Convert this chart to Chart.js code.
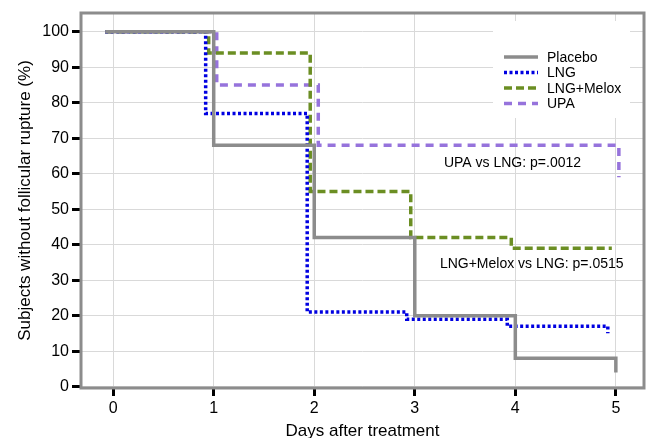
<!DOCTYPE html>
<html>
<head>
<meta charset="utf-8">
<script src="https://cdn.jsdelivr.net/npm/chart.js@4.4.1/dist/chart.umd.min.js"></script>
<style>
  html, body { margin: 0; padding: 0; background: #fff; }
  #wrap { width: 649px; height: 438px; }
</style>
</head>
<body>
<div id="wrap"><canvas id="kmChart" width="649" height="438"></canvas></div>
<script>
// tick labels
const xTicks = [0, 1, 2, 3, 4, 5];
const yTicks = [0, 10, 20, 30, 40, 50, 60, 70, 80, 90, 100];

// Kaplan-Meier steps: day of each step and value after it
const placeboDays = [-0.08, 1.0, 2.0, 3.0, 4.0, 5.0];
const placeboPct = [100, 68, 42, 20, 8, 4];
const lngDays = [-0.08, 0.92, 1.93, 2.92, 3.92, 4.92];
const lngPct = [100, 77, 21, 19, 17, 15];
const meloxDays = [-0.08, 0.95, 1.96, 2.96, 3.96, 4.96];
const meloxPct = [100, 94, 55, 42, 39, 39];
const upaDays = [-0.08, 1.03, 2.04, 5.03];
const upaPct = [100, 85, 68, 59];

// p-value notes, anchored at [day, percent]
const notes = [
    { text: 'UPA vs LNG: p=.0012', day: 3.29, pct: 62.9 },
    { text: 'LNG+Melox vs LNG: p=.0515', day: 3.25, pct: 34.5 }
];

const FONT = "'Liberation Sans', Arial, Helvetica, sans-serif";

function toPoints(days, pct) {
    return days.map((d, i) => ({ x: d, y: pct[i] }));
}

const series = [
    { label: 'Placebo', days: placeboDays, pct: placeboPct, color: 'rgb(140, 140, 140)', width: 3.5, dash: [] },
    { label: 'LNG', days: lngDays, pct: lngPct, color: 'rgb(0, 0, 225)', width: 3.5, dash: [3, 2.5] },
    { label: 'LNG+Melox', days: meloxDays, pct: meloxPct, color: 'rgb(107, 142, 35)', width: 3.5, dash: [8, 4] },
    { label: 'UPA', days: upaDays, pct: upaPct, color: 'rgb(150, 115, 220)', width: 3.5, dash: [8, 6] }
];

// white legend box inside the plot, top right
const legendBox = {
    id: 'legendBox',
    beforeDatasetsDraw(chart) {
        const ctx = chart.ctx;
        const area = chart.chartArea;
        const x0 = area.right - 151;
        const y0 = area.top + 8;
        ctx.save();
        ctx.fillStyle = '#fff';
        ctx.fillRect(x0, y0, 137, 97);
        ctx.font = '14px ' + FONT;
        ctx.textBaseline = 'middle';
        series.forEach((s, i) => {
            const y = area.top + 44 + i * 15.5;
            ctx.strokeStyle = s.color;
            ctx.lineWidth = s.width;
            ctx.setLineDash(s.dash);
            ctx.beginPath();
            ctx.moveTo(x0 + 11, y);
            ctx.lineTo(x0 + 45, y);
            ctx.stroke();
            ctx.setLineDash([]);
            ctx.fillStyle = '#000';
            ctx.fillText(s.label, x0 + 54, y + 1);
        });
        ctx.restore();
    }
};

// grey frame around the plot plus the p-value notes
const frameAndNotes = {
    id: 'frameAndNotes',
    afterDatasetsDraw(chart) {
        const ctx = chart.ctx;
        const area = chart.chartArea;
        const xs = chart.scales.x;
        const ys = chart.scales.y;
        ctx.save();
        ctx.font = '14px ' + FONT;
        ctx.fillStyle = '#000';
        ctx.textBaseline = 'middle';
        notes.forEach(n => {
            ctx.fillText(n.text, xs.getPixelForValue(n.day), ys.getPixelForValue(n.pct));
        });
        ctx.strokeStyle = 'rgb(140, 140, 140)';
        ctx.lineWidth = 3;
        ctx.strokeRect(area.left, area.top, area.right - area.left, area.bottom - area.top);
        ctx.restore();
    }
};

new Chart(document.getElementById('kmChart'), {
    type: 'line',
    data: {
        datasets: series.map(s => ({
            label: s.label,
            data: toPoints(s.days, s.pct),
            stepped: true,
            borderColor: s.color,
            borderWidth: s.width,
            borderDash: s.dash,
            pointRadius: 0,
            fill: false
        }))
    },
    options: {
        responsive: false,
        animation: false,
        layout: { padding: { left: 0, top: 13, right: 5, bottom: 0 } },
        plugins: {
            legend: { display: false },
            tooltip: { enabled: false }
        },
        scales: {
            x: {
                type: 'linear',
                min: -0.32,
                max: 5.28,
                afterBuildTicks: scale => { scale.ticks = xTicks.map(v => ({ value: v })); },
                afterFit: scale => { scale.height = 50; },
                border: { display: false },
                grid: { color: '#d9d9d9', lineWidth: 1, tickColor: '#000', tickWidth: 3, tickLength: 8 },
                ticks: { color: '#000', font: { size: 16, family: FONT }, padding: 3, maxRotation: 0 },
                title: {
                    display: true,
                    text: 'Days after treatment',
                    color: '#000',
                    font: { size: 17, family: FONT },
                    padding: { top: 0, bottom: -4 }
                }
            },
            y: {
                type: 'linear',
                min: -0.4,
                max: 105.3,
                afterBuildTicks: scale => { scale.ticks = yTicks.map(v => ({ value: v })); },
                afterFit: scale => { scale.width = 81; },
                border: { display: false },
                grid: { color: '#d9d9d9', lineWidth: 1, tickColor: '#000', tickWidth: 3, tickLength: 9 },
                ticks: { color: '#000', font: { size: 16, family: FONT }, padding: 3 },
                title: {
                    display: true,
                    text: 'Subjects without follicular rupture (%)',
                    color: '#000',
                    font: { size: 17, family: FONT },
                    padding: { top: 15, bottom: 0 }
                }
            }
        }
    },
    plugins: [legendBox, frameAndNotes]
});
</script>
</body>
</html>
